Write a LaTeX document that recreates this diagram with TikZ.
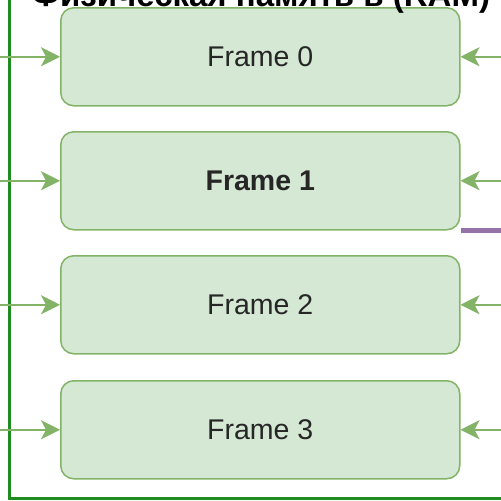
\documentclass[tikz,border=0pt]{standalone}
\usepackage{fontspec}
\setmainfont{Liberation Sans}
\usetikzlibrary{arrows.meta}
\definecolor{framefill}{HTML}{D5E8D4}
\definecolor{framedraw}{HTML}{82B366}
\definecolor{memgreen}{HTML}{1E8C1E}
\definecolor{purpleline}{HTML}{9673A6}
\tikzset{
  framebox/.style={draw=framedraw, fill=framefill, line width=1.5pt, rounded corners=13pt,
    minimum width=399pt, minimum height=98pt, inner sep=0pt, anchor=north west,
    font=\fontsize{28.5}{32}\selectfont, text=black!85},
  inarrow/.style={draw=framedraw, line width=1.5pt, -{Stealth[length=19pt,width=19pt,inset=5pt]}},
}
\begin{document}
\begin{tikzpicture}[x=1pt,y=-1pt]
\useasboundingbox (0,0) rectangle (501,501);
\clip (0,0) rectangle (501,501);
\draw[memgreen, line width=3pt] (9.5,-20) -- (9.5,498.5) -- (540,498.5);
\node[framebox] (f0) at (60,7) {Frame 0};
\node[framebox] (f1) at (60,131) {\bfseries Frame 1};
\node[framebox] (f2) at (60,255) {Frame 2};
\node[framebox] (f3) at (60,380) {Frame 3};
\node[anchor=base, inner sep=0pt, font=\bfseries\fontsize{33}{37}\selectfont] (title) at (261,6) {Физическая память в (RAM)};
\foreach \i in {0,1,2,3}{
  \coordinate (l\i) at (0,0 |- f\i.west);
  \coordinate (r\i) at (501,0 |- f\i.east);
  \draw[inarrow] (l\i) -- (f\i.west);
  \draw[inarrow] (r\i) -- (f\i.east);
}
\coordinate (pend) at (520,228.5);
\draw[purpleline, line width=5pt] (f1.south east) -- (pend |- f1.south east);
\end{tikzpicture}
\end{document}
